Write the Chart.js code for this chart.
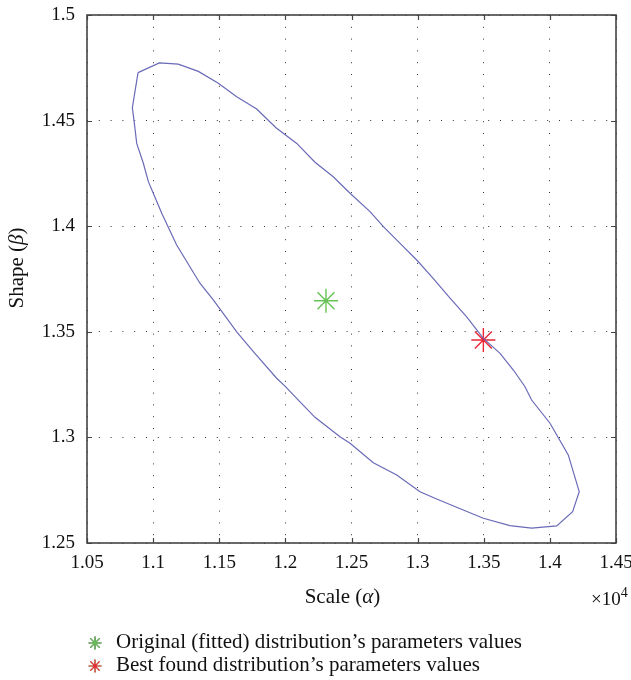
<!DOCTYPE html>
<html><head><meta charset="utf-8">
<script src="https://cdn.jsdelivr.net/npm/chart.js@4.4.0/dist/chart.umd.min.js"></script>
<style>html,body{margin:0;padding:0;background:#fff}</style>
</head><body>
<canvas id="c" width="631" height="680"></canvas>
<script>
// ---- data ----
const xTicks = [1.05, 1.1, 1.15, 1.2, 1.25, 1.3, 1.35, 1.4, 1.45];
const xTickLabels = ['1.05', '1.1', '1.15', '1.2', '1.25', '1.3', '1.35', '1.4', '1.45'];
const yTicks = [1.25, 1.3, 1.35, 1.4, 1.45, 1.5];
const yTickLabels = ['1.25', '1.3', '1.35', '1.4', '1.45', '1.5'];

const contourX = [1.0886, 1.1047, 1.119, 1.1342, 1.1493, 1.1632, 1.1783, 1.1929, 1.2086, 1.2224,
  1.2362, 1.2489, 1.264, 1.2741, 1.2892, 1.2993, 1.3119, 1.3245, 1.3371, 1.3497, 1.3623, 1.3724,
  1.3812, 1.3862, 1.4001, 1.4139, 1.4222, 1.4172, 1.4052, 1.3862, 1.3698, 1.3497, 1.3345, 1.3144,
  1.3018, 1.2842, 1.2665, 1.2489, 1.2413, 1.2224, 1.2111, 1.1997, 1.1934, 1.1758, 1.1632, 1.1455,
  1.1354, 1.1178, 1.1065, 1.1039, 1.0964, 1.0926, 1.0876, 1.0858, 1.0843, 1.0886];
const contourY = [1.4727, 1.4773, 1.4767, 1.4733, 1.4677, 1.4613, 1.4555, 1.4466, 1.4392, 1.4303,
  1.4234, 1.4156, 1.4069, 1.3998, 1.3903, 1.384, 1.3752, 1.3659, 1.3571, 1.3469, 1.3398, 1.3319,
  1.324, 1.3177, 1.3067, 1.2917, 1.2743, 1.2648, 1.2581, 1.257, 1.2582, 1.2617, 1.2656, 1.2708,
  1.2743, 1.2822, 1.288, 1.2972, 1.3003, 1.3095, 1.3168, 1.3243, 1.328, 1.3406, 1.35, 1.3651,
  1.373, 1.3911, 1.4061, 1.41, 1.4211, 1.4298, 1.4392, 1.4487, 1.4561, 1.4727];

const originalPoint = {x: 1.2307, y: 1.3647};
const bestPoint = {x: 1.3497, y: 1.3461};

const seriesLabels = ['Original (fitted) distribution\u2019s parameters values',
                      'Best found distribution\u2019s parameters values'];
const xTitleParts = ['Scale (', '\u03b1', ')'];
const yTitleParts = ['Shape (', '\u03b2', ')'];
const xExponent = ['\u00d710', '4'];

// ---- chart ----
const FONT = "'Liberation Serif', 'DejaVu Serif', serif";
const contour = contourX.map((x, i) => ({x, y: contourY[i]}));

function drawParts(ctx, parts, x, y, size) {
  const fonts = parts.map((p, i) => (i === 1 ? 'italic ' : '') + size + 'px ' + FONT);
  let w = 0;
  parts.forEach((p, i) => { ctx.font = fonts[i]; w += ctx.measureText(p).width; });
  let cx = x - w / 2;
  parts.forEach((p, i) => { ctx.font = fonts[i]; ctx.fillText(p, cx, y); cx += ctx.measureText(p).width; });
}

const decor = {
  id: 'decor',
  afterDraw(chart) {
    const {ctx, chartArea: a, scales} = chart;
    ctx.save();
    // box
    ctx.strokeStyle = '#444';
    ctx.lineWidth = 1.6;
    ctx.strokeRect(a.left, a.top, a.right - a.left, a.bottom - a.top);
    // inward ticks
    ctx.lineWidth = 1.2;
    ctx.beginPath();
    xTicks.forEach(v => {
      const px = Math.round(scales.x.getPixelForValue(v)) + 0.5;
      ctx.moveTo(px, a.bottom); ctx.lineTo(px, a.bottom - 5);
      ctx.moveTo(px, a.top); ctx.lineTo(px, a.top + 5);
    });
    yTicks.forEach(v => {
      const py = Math.round(scales.y.getPixelForValue(v)) + 0.5;
      ctx.moveTo(a.left, py); ctx.lineTo(a.left + 5, py);
      ctx.moveTo(a.right, py); ctx.lineTo(a.right - 5, py);
    });
    ctx.stroke();

    // titles
    ctx.fillStyle = '#111';
    ctx.textBaseline = 'alphabetic';
    drawParts(ctx, xTitleParts, 342.5, 603, 21);
    ctx.save();
    ctx.translate(23, 268);
    ctx.rotate(-Math.PI / 2);
    drawParts(ctx, yTitleParts, 0, 0, 21);
    ctx.restore();
    // exponent
    ctx.font = '19px ' + FONT;
    ctx.fillText(xExponent[0], 591, 605);
    const w = ctx.measureText(xExponent[0]).width;
    ctx.font = '14px ' + FONT;
    ctx.fillText(xExponent[1], 591 + w, 597);

    // legend
    [1, 2].forEach((di, k) => {
      const ds = chart.data.datasets[di];
      const cy = 643 + k * 23;
      Chart.helpers.drawPoint(ctx, {pointStyle: 'star', radius: 6.5, borderWidth: 1.2, rotation: 0},
        95, cy);
      ctx.strokeStyle = ds.borderColor;
      ctx.lineWidth = 1.2;
      ctx.stroke();
      ctx.fillStyle = '#111';
      ctx.font = '21px ' + FONT;
      ctx.textBaseline = 'alphabetic';
      ctx.fillText(ds.label, 116, cy + 4.5);
    });
    ctx.restore();
  }
};

new Chart(document.getElementById('c'), {
  type: 'scatter',
  data: {
    datasets: [
      {label: 'contour', data: contour, showLine: true, borderColor: '#6a6ab8', borderWidth: 1.2,
       pointRadius: 0, fill: false, tension: 0, order: 2},
      {label: seriesLabels[0], data: [originalPoint], pointStyle: 'star', pointRadius: 12,
       borderColor: '#66c455', pointBorderWidth: 1.4, borderWidth: 1.4, order: 1},
      {label: seriesLabels[1], data: [bestPoint], pointStyle: 'star', pointRadius: 12,
       borderColor: '#ec2436', pointBorderWidth: 1.4, borderWidth: 1.4, order: 3}
    ]
  },
  options: {
    responsive: false,
    animation: false,
    events: [],
    layout: {padding: {top: 15, right: 15, bottom: 67, left: 0}},
    plugins: {legend: {display: false}, tooltip: {enabled: false}},
    scales: {
      x: {
        type: 'linear', min: 1.05, max: 1.45,
        afterBuildTicks: s => { s.ticks = xTicks.map(v => ({value: v})); },
        afterFit: s => { s.height = 70; s.paddingLeft = 0; s.paddingRight = 0; },
        ticks: {callback: (v, i) => xTickLabels[i], color: '#111', font: {family: FONT, size: 19},
                padding: 9, maxRotation: 0, autoSkip: false},
        grid: {color: '#333', lineWidth: 1, drawTicks: false},
        border: {display: false, dash: [1, 10.8]}
      },
      y: {
        type: 'linear', min: 1.25, max: 1.5,
        afterBuildTicks: s => { s.ticks = yTicks.map(v => ({value: v})); },
        afterFit: s => { s.width = 87; s.paddingTop = 0; s.paddingBottom = 0; },
        ticks: {callback: (v, i) => yTickLabels[i], color: '#111', font: {family: FONT, size: 19},
                padding: 12, autoSkip: false},
        grid: {color: '#333', lineWidth: 1, drawTicks: false},
        border: {display: false, dash: [1, 10.8]}
      }
    }
  },
  plugins: [decor]
});
</script>
</body></html>
